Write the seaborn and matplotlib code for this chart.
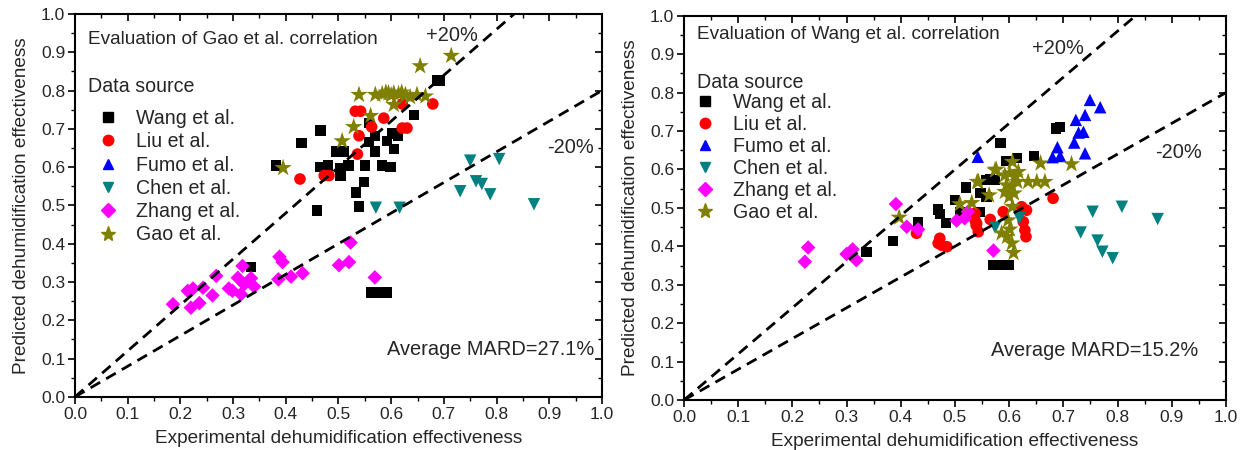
import numpy as np
import pandas as pd
import matplotlib
matplotlib.use("Agg")
import matplotlib.pyplot as plt
import seaborn as sns
from matplotlib.lines import Line2D

sns.set_theme(style="white")
plt.rcParams['font.family'] = ['Liberation Sans', 'DejaVu Sans']

sources = ["Wang et al.", "Liu et al.", "Fumo et al.", "Chen et al.", "Zhang et al.", "Gao et al."]
colors = ["#000000", "#FF0000", "#0000FF", "#008080", "#FF00FF", "#808000"]
markers = ["s", "o", "^", "v", "D", "*"]
msizes = [55, 70, 80, 80, 55, 175]

# ---- Left panel: Gao et al. correlation ----
g_wang_x = [0.381, 0.43, 0.466, 0.466, 0.48, 0.495, 0.51, 0.504, 0.519, 0.504, 0.549, 0.551, 0.558, 0.57,
            0.569, 0.583, 0.599, 0.592, 0.602, 0.605, 0.613, 0.643, 0.687, 0.693, 0.558, 0.459, 0.533, 0.539,
            0.334, 0.562, 0.572, 0.582, 0.592]
g_wang_y = [0.604, 0.663, 0.696, 0.60, 0.604, 0.641, 0.641, 0.598, 0.604, 0.578, 0.561, 0.604, 0.665, 0.681,
            0.641, 0.604, 0.60, 0.668, 0.688, 0.648, 0.681, 0.737, 0.826, 0.826, 0.715, 0.487, 0.534, 0.497,
            0.340, 0.273, 0.273, 0.273, 0.273]
g_liu_x = [0.427, 0.473, 0.482, 0.536, 0.539, 0.563, 0.586, 0.532, 0.542, 0.621, 0.630, 0.621, 0.679]
g_liu_y = [0.569, 0.578, 0.578, 0.634, 0.682, 0.705, 0.728, 0.746, 0.746, 0.702, 0.702, 0.765, 0.765]
g_fumo_x = []
g_fumo_y = []
g_chen_x = [0.75, 0.805, 0.761, 0.772, 0.731, 0.788, 0.571, 0.616, 0.871]
g_chen_y = [0.617, 0.621, 0.563, 0.556, 0.537, 0.529, 0.494, 0.494, 0.503]
g_zhang_x = [0.186, 0.214, 0.224, 0.243, 0.22, 0.236, 0.261, 0.268, 0.292, 0.299, 0.309, 0.318, 0.315,
             0.321, 0.34, 0.388, 0.394, 0.386, 0.41, 0.432, 0.501, 0.52, 0.523, 0.569, 0.334]
g_zhang_y = [0.242, 0.277, 0.283, 0.285, 0.233, 0.245, 0.265, 0.316, 0.283, 0.277, 0.311, 0.342, 0.268,
             0.294, 0.288, 0.366, 0.352, 0.307, 0.314, 0.323, 0.344, 0.352, 0.403, 0.312, 0.31]
g_gao_x = [0.395, 0.507, 0.529, 0.561, 0.539, 0.57, 0.583, 0.595, 0.605, 0.614, 0.627, 0.605, 0.636,
           0.649, 0.665, 0.655, 0.714, 0.59, 0.6, 0.62]
g_gao_y = [0.598, 0.668, 0.705, 0.734, 0.789, 0.789, 0.791, 0.793, 0.793, 0.791, 0.789, 0.763, 0.783,
           0.789, 0.785, 0.864, 0.891, 0.795, 0.788, 0.795]

# ---- Right panel: Wang et al. correlation ----
w_wang_x = [0.686, 0.694, 0.584, 0.615, 0.646, 0.594, 0.520, 0.557, 0.574, 0.547, 0.558, 0.50, 0.469,
            0.472, 0.432, 0.483, 0.385, 0.546, 0.337, 0.509, 0.565, 0.57, 0.585, 0.60]
w_wang_y = [0.707, 0.71, 0.668, 0.629, 0.635, 0.622, 0.553, 0.572, 0.572, 0.538, 0.529, 0.52, 0.496,
            0.484, 0.464, 0.46, 0.414, 0.49, 0.386, 0.49, 0.574, 0.351, 0.351, 0.351]
w_liu_x = [0.429, 0.472, 0.475, 0.485, 0.469, 0.537, 0.537, 0.539, 0.543, 0.565, 0.589, 0.623, 0.632,
           0.626, 0.629, 0.631, 0.681, 0.54]
w_liu_y = [0.434, 0.421, 0.403, 0.399, 0.408, 0.486, 0.468, 0.455, 0.438, 0.47, 0.49, 0.503, 0.494,
           0.464, 0.442, 0.425, 0.525, 0.46]
w_fumo_x = [0.542, 0.680, 0.689, 0.694, 0.720, 0.728, 0.737, 0.740, 0.723, 0.740, 0.749, 0.768]
w_fumo_y = [0.633, 0.632, 0.658, 0.635, 0.670, 0.696, 0.698, 0.642, 0.729, 0.742, 0.781, 0.762]
w_chen_x = [0.808, 0.754, 0.874, 0.732, 0.763, 0.772, 0.791, 0.574, 0.619]
w_chen_y = [0.503, 0.49, 0.471, 0.436, 0.415, 0.386, 0.369, 0.449, 0.473]
w_zhang_x = [0.229, 0.223, 0.30, 0.311, 0.318, 0.391, 0.411, 0.432, 0.503, 0.518, 0.524, 0.571]
w_zhang_y = [0.397, 0.36, 0.38, 0.392, 0.364, 0.51, 0.451, 0.444, 0.467, 0.473, 0.49, 0.389]
w_gao_x = [0.397, 0.509, 0.531, 0.541, 0.563, 0.576, 0.606, 0.592, 0.601, 0.611, 0.617, 0.595, 0.605,
           0.615, 0.609, 0.60, 0.592, 0.635, 0.651, 0.666, 0.658, 0.715, 0.606, 0.598, 0.601, 0.596,
           0.605, 0.608, 0.586, 0.543, 0.574]
w_gao_y = [0.475, 0.51, 0.513, 0.568, 0.533, 0.60, 0.62, 0.585, 0.59, 0.581, 0.594, 0.559, 0.555,
           0.568, 0.538, 0.529, 0.542, 0.568, 0.568, 0.568, 0.616, 0.614, 0.503, 0.468, 0.444, 0.425,
           0.408, 0.383, 0.434, 0.568, 0.598]

panels = [
    dict(title="Evaluation of Gao et al. correlation", mard="Average MARD=27.1%",
         data=[(g_wang_x, g_wang_y), (g_liu_x, g_liu_y), (g_fumo_x, g_fumo_y),
               (g_chen_x, g_chen_y), (g_zhang_x, g_zhang_y), (g_gao_x, g_gao_y)],
         pos=[0.0602, 0.118, 0.4233, 0.851], plus=(0.715, 0.945), minus=(0.985, 0.65),
         mardpos=(0.985, 0.125), titlepos=(0.025, 0.932), dspos=(0.025, 0.81),
         legpos=(0.025, 0.752), hl=2.0, htp=0.42, ls=0.22),
    dict(title="Evaluation of Wang et al. correlation", mard="Average MARD=15.2%",
         data=[(w_wang_x, w_wang_y), (w_liu_x, w_liu_y), (w_fumo_x, w_fumo_y),
               (w_chen_x, w_chen_y), (w_zhang_x, w_zhang_y), (w_gao_x, w_gao_y)],
         pos=[0.5494, 0.111, 0.4353, 0.854], plus=(0.69, 0.915), minus=(0.955, 0.645),
         mardpos=(0.948, 0.13), titlepos=(0.024, 0.952), dspos=(0.024, 0.826),
         legpos=(0.024, 0.800), hl=0.84, htp=1.0, ls=0.16),
]

FS = 13.7
LFS = 14.1
AFS = 14.4
TFS = 12.5
fig = plt.figure(figsize=(12.45, 4.5), dpi=100)

for p in panels:
    ax = fig.add_axes(p["pos"])
    line_x = np.array([0.0, 1.0])
    ax.plot(line_x, 1.2 * line_x, ls=(0, (4, 2.5)), color="black", lw=2, zorder=5)
    ax.plot(line_x, 0.8 * line_x, ls=(0, (4, 2.5)), color="black", lw=2, zorder=5)
    for (xs, ys), src, c, m, s in zip(p["data"], sources, colors, markers, msizes):
        if len(xs) == 0:
            continue
        df = pd.DataFrame({"x": xs, "y": ys})
        sns.scatterplot(data=df, x="x", y="y", ax=ax, color=c, marker=m, s=s,
                        edgecolor="none", linewidth=0, zorder=3)
    ticks = np.arange(0, 1.01, 0.1)
    minor = np.arange(0, 1.01, 0.05)
    ax.set_xlim(0, 1)
    ax.set_ylim(0, 1)
    ax.set_xticks(ticks)
    ax.set_yticks(ticks)
    ax.set_xticks(minor, minor=True)
    ax.set_yticks(minor, minor=True)
    ax.set_xticklabels([f"{v:.1f}" for v in ticks], fontsize=TFS)
    ax.set_yticklabels([f"{v:.1f}" for v in ticks], fontsize=TFS)
    ax.tick_params(which="major", direction="out", length=5, width=1.2, color="black", pad=2,
                   bottom=True, left=True)
    ax.tick_params(which="minor", direction="out", length=3, width=1.0, color="black",
                   bottom=True, left=True)
    sec = ax.secondary_xaxis("top")
    sec.set_xticks(ticks)
    sec.set_xticks(minor, minor=True)
    sec.set_xticklabels([])
    sec2 = ax.secondary_yaxis("right")
    sec2.set_yticks(ticks)
    sec2.set_yticks(minor, minor=True)
    sec2.set_yticklabels([])
    for s_ in (sec, sec2):
        s_.tick_params(which="major", direction="in", length=5, width=1.2, color="black")
        s_.tick_params(which="minor", direction="in", length=3, width=1.0, color="black")
        for sp in s_.spines.values():
            sp.set_visible(False)
    for sp in ax.spines.values():
        sp.set_color("black")
        sp.set_linewidth(1.5)
    ax.set_xlabel("Experimental dehumidification effectiveness", fontsize=FS, labelpad=6)
    ax.set_ylabel("Predicted dehumidification effectiveness", fontsize=FS, labelpad=8)
    ax.text(*p["titlepos"], p["title"], transform=ax.transAxes, fontsize=FS, va="center", ha="left")
    ax.text(*p["dspos"], "Data source", transform=ax.transAxes, fontsize=LFS, va="center", ha="left")
    ax.text(*p["plus"], "+20%", transform=ax.transAxes, fontsize=AFS, va="center", ha="center")
    ax.text(*p["minus"], "-20%", transform=ax.transAxes, fontsize=AFS, va="center", ha="right")
    ax.text(*p["mardpos"], p["mard"], transform=ax.transAxes, fontsize=AFS, va="center", ha="right")

    handles = [Line2D([], [], ls="none", marker=m, color=c, markersize=(11 if m == "*" else 7.5))
               for m, c in zip(markers, colors)]
    ax.legend(handles, sources, loc="upper left", bbox_to_anchor=p["legpos"], frameon=False,
              fontsize=LFS, handletextpad=p["htp"], labelspacing=p["ls"], borderaxespad=0,
              borderpad=0, handlelength=p["hl"])

fig.savefig("out.png", dpi=100)
